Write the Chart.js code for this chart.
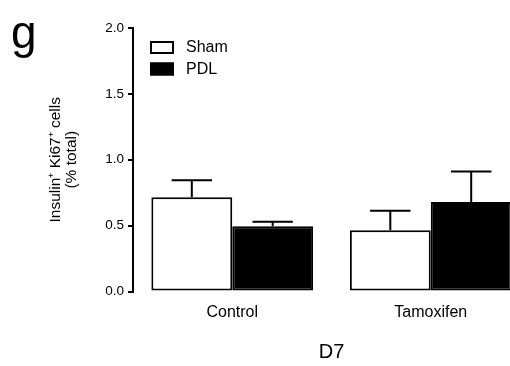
<!DOCTYPE html>
<html>
<head>
<meta charset="utf-8">
<script src="https://cdn.jsdelivr.net/npm/chart.js@4/dist/chart.umd.min.js"></script>
<style>
    html, body { margin: 0; padding: 0; background: #fff; overflow: hidden; }
    #wrap { position: relative; width: 530px; height: 366px; }
    #panel { position: absolute; left: 11px; top: 9px; font: 46px "Liberation Sans", Arial, sans-serif; line-height: 46px; color: #000; }
</style>
</head>
<body>
<div id="wrap">
    <canvas id="chart" width="530" height="366"></canvas>
    <div id="panel">g</div>
</div>
<script>
var categories = ['Control', 'Tamoxifen'];
var shamMean = [0.715, 0.465];
var shamErr = [0.13, 0.147];
var pdlMean = [0.495, 0.68];
var pdlErr = [0.034, 0.23];
var yTicks = [0, 0.5, 1.0, 1.5, 2.0];

var FONT = '"Liberation Sans", Arial, sans-serif';

// error bars drawn on top of each bar (upper side only)
var errorBars = {
    id: 'errorBars',
    afterDatasetsDraw: function (chart) {
        var ctx = chart.ctx;
        var y = chart.scales.y;
        ctx.save();
        ctx.strokeStyle = '#000';
        ctx.lineWidth = 2;
        chart.data.datasets.forEach(function (ds, i) {
            var meta = chart.getDatasetMeta(i);
            meta.data.forEach(function (bar, j) {
                var top = y.getPixelForValue(ds.data[j] + ds.errors[j]);
                var half = bar.width / 4;
                ctx.beginPath();
                ctx.moveTo(bar.x, bar.y);
                ctx.lineTo(bar.x, top);
                ctx.moveTo(bar.x - half, top);
                ctx.lineTo(bar.x + half, top);
                ctx.stroke();
            });
        });
        ctx.restore();
    }
};

// legend boxes in the top-left of the plot
var boxLegend = {
    id: 'boxLegend',
    afterDraw: function (chart) {
        var ctx = chart.ctx;
        var area = chart.chartArea;
        ctx.save();
        ctx.font = '16px ' + FONT;
        ctx.textBaseline = 'middle';
        chart.data.datasets.forEach(function (ds, i) {
            var bx = area.left + 17;
            var by = area.top + 13 + i * 21.5;
            ctx.fillStyle = ds.backgroundColor;
            ctx.fillRect(bx, by, 24, 13);
            ctx.strokeStyle = '#000';
            ctx.lineWidth = 2;
            ctx.strokeRect(bx + 1, by + 1, 22, 11);
            ctx.fillStyle = '#000';
            ctx.fillText(ds.label, bx + 36, by + 7);
        });
        ctx.restore();
    }
};

var ctx = document.getElementById('chart').getContext('2d');
new Chart(ctx, {
    type: 'bar',
    data: {
        labels: categories,
        datasets: [
            { label: 'Sham', data: shamMean, errors: shamErr, backgroundColor: '#ffffff', borderColor: '#000', borderWidth: 2, borderSkipped: false },
            { label: 'PDL', data: pdlMean, errors: pdlErr, backgroundColor: '#000000', borderColor: '#000', borderWidth: 2, borderSkipped: false }
        ]
    },
    options: {
        responsive: false,
        animation: false,
        events: [],
        categoryPercentage: 0.815,
        barPercentage: 1.0,
        layout: { padding: { top: 28, right: 0, bottom: 0, left: 0 } },
        plugins: {
            legend: { display: false },
            tooltip: { enabled: false }
        },
        scales: {
            x: {
                grid: { display: false },
                border: { display: false },
                ticks: { color: '#000', font: { family: FONT, size: 16 }, padding: 3 },
                title: { display: true, text: 'D7', color: '#000', font: { family: FONT, size: 20 }, padding: { top: 10, bottom: 1.5 } },
                afterFit: function (s) { s.height = 74.5; }
            },
            y: {
                min: 0,
                max: 2,
                afterBuildTicks: function (s) { s.ticks = yTicks.map(function (v) { return { value: v }; }); },
                ticks: {
                    color: '#000',
                    font: { family: FONT, size: 13.5 },
                    padding: 4,
                    callback: function (v) { return Number(v).toFixed(1); }
                },
                grid: { drawOnChartArea: false, drawTicks: true, tickLength: 5, color: '#000', lineWidth: 2 },
                border: { display: true, color: '#000', width: 2 },
                title: {
                    display: true,
                    text: ['Insulin\u207A Ki67\u207A cells', '(% total)'],
                    color: '#000',
                    font: { family: FONT, size: 15.5, lineHeight: '16px' },
                    padding: { top: 48, bottom: 0 }
                },
                afterFit: function (s) { s.width = 133; }
            }
        }
    },
    plugins: [errorBars, boxLegend]
});
</script>
</body>
</html>
